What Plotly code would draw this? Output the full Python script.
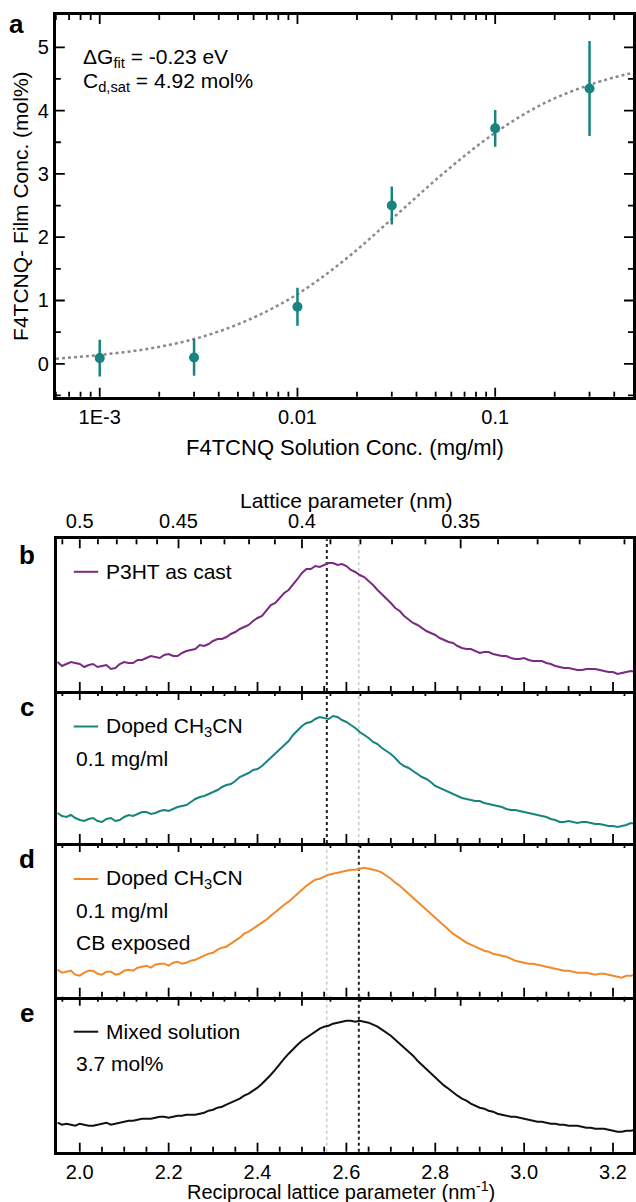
import plotly.graph_objects as go

W, H = 636, 1202
FONT = "Liberation Sans, Arial, Helvetica, sans-serif"
FS = 21
TICK_FS = 20

# ---- panel a: film dopant concentration vs. solution concentration ----
SOLN_CONC = [0.001, 0.003, 0.01, 0.03, 0.1, 0.3]          # mg/ml
FILM_CONC = [0.09, 0.10, 0.90, 2.50, 3.72, 4.35]           # mol%
FILM_ERR = [0.29, 0.29, 0.30, 0.30, 0.29, 0.75]
FIT_CONC = [0.0006, 0.001, 0.00178, 0.00316, 0.00562, 0.01, 0.0178,
            0.0316, 0.0562, 0.1, 0.178, 0.316, 0.5]
FIT_FILM = [0.08, 0.14, 0.24, 0.41, 0.69, 1.10, 1.67, 2.35, 3.04, 3.65,
            4.12, 4.43, 4.60]
A_XTICKS = [0.001, 0.01, 0.1]
A_XTICKTEXT = ["1E-3", "0.01", "0.1"]
A_XMINOR = [0.0006, 0.0007, 0.0008, 0.0009,
            0.002, 0.003, 0.004, 0.005, 0.006, 0.007, 0.008, 0.009,
            0.02, 0.03, 0.04, 0.05, 0.06, 0.07, 0.08, 0.09,
            0.2, 0.3, 0.4]
A_YTICKS = [0, 1, 2, 3, 4, 5]
A_YMINOR = [-0.5, 0.5, 1.5, 2.5, 3.5, 4.5]

# ---- panels b-e: pi-stacking peak profiles (a.u.) ----
Q = [1.95, 1.96, 1.97, 1.98, 1.99, 2.00, 2.01, 2.02, 2.03, 2.04, 2.05,
     2.06, 2.07, 2.08, 2.09, 2.10, 2.11, 2.12, 2.13, 2.14, 2.15, 2.16,
     2.17, 2.18, 2.19, 2.20, 2.21, 2.22, 2.23, 2.24, 2.25, 2.26, 2.27,
     2.28, 2.29, 2.30, 2.31, 2.32, 2.33, 2.34, 2.35, 2.36, 2.37, 2.38,
     2.39, 2.40, 2.41, 2.42, 2.43, 2.44, 2.45, 2.46, 2.47, 2.48, 2.49,
     2.50, 2.51, 2.52, 2.53, 2.54, 2.55, 2.56, 2.57, 2.58, 2.59, 2.60,
     2.61, 2.62, 2.63, 2.64, 2.65, 2.66, 2.67, 2.68, 2.69, 2.70, 2.71,
     2.72, 2.73, 2.74, 2.75, 2.76, 2.77, 2.78, 2.79, 2.80, 2.81, 2.82,
     2.83, 2.84, 2.85, 2.86, 2.87, 2.88, 2.89, 2.90, 2.91, 2.92, 2.93,
     2.94, 2.95, 2.96, 2.97, 2.98, 2.99, 3.00, 3.01, 3.02, 3.03, 3.04,
     3.05, 3.06, 3.07, 3.08, 3.09, 3.10, 3.11, 3.12, 3.13, 3.14, 3.15,
     3.16, 3.17, 3.18, 3.19, 3.20, 3.21, 3.22, 3.23, 3.24, 3.25]

P3HT_CAST = [29, 25, 27, 29, 28, 27, 24, 26, 27, 24, 25, 26, 22, 23, 27, 29,
             28, 28, 31, 31, 33, 35, 34, 33, 36, 37, 35, 35, 38, 40, 41, 42,
             46, 45, 47, 50, 52, 52, 54, 57, 59, 62, 64, 66, 70, 73, 75, 81,
             86, 88, 93, 98, 101, 106, 112, 118, 122, 122, 125, 124, 126, 128,
             128, 126, 127, 125, 121, 119, 116, 114, 110, 106, 101, 97, 92,
             88, 83, 80, 75, 71, 68, 66, 63, 60, 58, 56, 53, 51, 49, 48, 45,
             43, 42, 42, 40, 38, 39, 39, 37, 36, 35, 35, 33, 32, 32, 33, 31,
             30, 30, 30, 28, 27, 25, 24, 23, 23, 22, 21, 21, 22, 22, 22, 21,
             20, 19, 19, 17, 18, 19, 20, 19]

DOPED_CH3CN = [30, 27, 26, 28, 25, 23, 22, 24, 25, 22, 21, 24, 25, 22, 23,
               26, 28, 27, 29, 31, 31, 29, 30, 32, 33, 32, 34, 36, 37, 38,
               41, 44, 46, 47, 49, 51, 53, 56, 58, 59, 62, 66, 68, 70, 73,
               74, 77, 81, 85, 89, 93, 97, 102, 108, 113, 117, 120, 121, 124,
               126, 125, 124, 127, 126, 123, 121, 118, 115, 111, 108, 105,
               101, 99, 95, 92, 89, 85, 80, 77, 75, 72, 69, 66, 64, 61, 57,
               55, 53, 51, 49, 47, 45, 44, 43, 42, 42, 40, 39, 38, 37, 36,
               34, 33, 33, 32, 31, 30, 29, 28, 27, 26, 24, 23, 21, 21, 22,
               21, 20, 21, 21, 20, 19, 19, 18, 17, 17, 16, 17, 18, 20, 19]

DOPED_CB = [27, 24, 25, 26, 22, 21, 24, 26, 26, 23, 22, 25, 25, 22, 23, 26,
            27, 26, 29, 30, 31, 29, 32, 33, 33, 31, 34, 35, 33, 34, 36, 37,
            39, 41, 43, 44, 47, 49, 50, 53, 56, 59, 63, 65, 68, 71, 74, 77,
            81, 85, 89, 92, 95, 99, 102, 107, 111, 114, 117, 118, 120, 122,
            123, 124, 125, 126, 127, 127, 128, 129, 128, 127, 126, 124, 121,
            118, 114, 111, 107, 103, 99, 95, 91, 87, 83, 79, 75, 71, 67, 63,
            60, 57, 54, 52, 50, 48, 46, 45, 43, 42, 41, 40, 38, 36, 35, 34,
            33, 33, 32, 31, 30, 29, 28, 27, 26, 26, 25, 24, 24, 24, 23, 22,
            23, 23, 22, 21, 20, 19, 21, 21, 22]

MIXED = [29, 27, 28, 27, 26, 28, 27, 26, 26, 27, 28, 29, 27, 28, 29, 30,
         31, 31, 32, 33, 33, 33, 34, 35, 35, 34, 35, 36, 36, 37, 37, 37,
         38, 39, 41, 42, 44, 45, 47, 49, 51, 53, 56, 58, 61, 64, 68, 72,
         77, 82, 88, 93, 98, 103, 107, 111, 114, 117, 120, 123, 125, 126,
         128, 129, 130, 131, 131, 130, 131, 130, 129, 127, 125, 122, 119,
         116, 112, 108, 104, 100, 96, 91, 87, 82, 78, 74, 70, 66, 63, 59,
         56, 53, 51, 48, 46, 44, 43, 41, 40, 38, 37, 36, 35, 35, 34, 33,
         32, 31, 30, 30, 29, 28, 28, 27, 27, 26, 26, 26, 25, 24, 24, 23,
         23, 23, 22, 21, 20, 20, 21, 21, 22]

Q_TICKS = [2.0, 2.2, 2.4, 2.6, 2.8, 3.0, 3.2]
Q_MINOR = [2.05, 2.1, 2.15, 2.25, 2.3, 2.35, 2.45, 2.5, 2.55, 2.65, 2.7,
           2.75, 2.85, 2.9, 2.95, 3.05, 3.1, 3.15]
D_TICKS = [0.5, 0.45, 0.4, 0.35]
D_MINOR = [0.51, 0.49, 0.48, 0.47, 0.46, 0.44, 0.43, 0.42, 0.41, 0.39,
           0.38, 0.37, 0.36, 0.34, 0.33, 0.32, 0.31]
PEAK_Q = [2.556, 2.628]     # peak centres: as cast / doped+exposed

PANELS = [
    # letter, data, colour, label lines, black peak index, y-max (a.u.), first label offset
    ("b", P3HT_CAST, "#7b2a83", ["P3HT as cast"], 0, 151.7, 32.5),
    ("c", DOPED_CH3CN, "#17847f", ["Doped CH<sub>3</sub>CN", "0.1 mg/ml"], 0, 152.0, 35.5),
    ("d", DOPED_CB, "#f28a2c", ["Doped CH<sub>3</sub>CN", "0.1 mg/ml", "CB exposed"], 1, 153.7, 36.0),
    ("e", MIXED, "#111111", ["Mixed solution", "3.7 mol%"], 1, 155.0, 35.0),
]

# pixel frame of each panel
A_BOX = (56.0, 635.0, 15.0, 396.7)          # left, right, top, bottom
SPEC_X = (57.3, 635.0)
SPEC_EDGES = [539.3, 691.0, 843.0, 996.7, 1151.7]
Q_RANGE = [1.949, 3.245]
MAJOR_LEN, MINOR_LEN, TICK_W = 9.0, 5.0, 1.8


def px_x(x):
    return x / W


def px_y(y):
    return 1 - y / H


fig = go.Figure()
layout = dict(
    width=W, height=H, margin=dict(l=0, r=0, t=0, b=0),
    paper_bgcolor="white", plot_bgcolor="white", showlegend=False,
    font=dict(family=FONT, size=FS, color="black"),
)
annotations = []
shapes = []
TICKFONT = dict(family=FONT, size=TICK_FS, color="black")
FRAME = dict(showline=True, linecolor="black", linewidth=3, ticks="",
             showgrid=False, zeroline=False, fixedrange=True,
             tickfont=TICKFONT)


def xticks(xref, yref, vals, length, span_px, top=False):
    """Inward tick marks along the bottom (or top) edge of a subplot."""
    frac = length / span_px
    y0, y1 = (1, 1 - frac) if top else (0, frac)
    for v in vals:
        shapes.append(dict(type="line", xref=xref, yref=f"{yref} domain",
                           x0=v, x1=v, y0=y0, y1=y1, layer="above",
                           line=dict(color="black", width=TICK_W)))


def yticks(xref, yref, vals, length, span_px, right=False):
    """Inward tick marks along the left (or right) edge of a subplot."""
    frac = length / span_px
    x0, x1 = (1, 1 - frac) if right else (0, frac)
    for v in vals:
        shapes.append(dict(type="line", xref=f"{xref} domain", yref=yref,
                           x0=x0, x1=x1, y0=v, y1=v, layer="above",
                           line=dict(color="black", width=TICK_W)))


# ---------------- panel a ----------------
fig.add_trace(go.Scatter(
    x=FIT_CONC, y=FIT_FILM, mode="lines", line_shape="spline",
    line=dict(color="#8a8a8a", width=2.5, dash="dot"),
    xaxis="x", yaxis="y", hoverinfo="skip"))
fig.add_trace(go.Scatter(
    x=SOLN_CONC, y=FILM_CONC, mode="markers",
    marker=dict(color="#17847f", size=10),
    error_y=dict(type="data", array=FILM_ERR, color="#17847f",
                 thickness=2.5, width=0),
    xaxis="x", yaxis="y"))

a_w = A_BOX[1] - A_BOX[0]
a_h = A_BOX[3] - A_BOX[2]
layout["xaxis"] = dict(
    **FRAME, type="log", range=[-3.222, -0.303], mirror=True,
    domain=[px_x(A_BOX[0]), px_x(A_BOX[1])], anchor="y",
    tickmode="array", tickvals=A_XTICKS, ticktext=A_XTICKTEXT)
layout["yaxis"] = dict(
    **FRAME, range=[-0.52, 5.51], mirror=True,
    domain=[px_y(A_BOX[3]), px_y(A_BOX[2])], anchor="x",
    tickmode="array", tickvals=A_YTICKS)
for top in (False, True):
    xticks("x", "y", A_XTICKS, MAJOR_LEN, a_h, top)
    xticks("x", "y", A_XMINOR, MINOR_LEN, a_h, top)
for right in (False, True):
    yticks("x", "y", A_YTICKS, MAJOR_LEN, a_w, right)
    yticks("x", "y", A_YMINOR, MINOR_LEN, a_w, right)

annotations += [
    dict(text="<b>a</b>", x=px_x(17), y=px_y(24), font=dict(size=26)),
    dict(text="F4TCNQ- Film Conc. (mol%)", textangle=-90,
         x=px_x(21), y=px_y(206)),
    dict(text="F4TCNQ Solution Conc. (mg/ml)", x=px_x(346), y=px_y(447),
         font=dict(size=22)),
    dict(text="ΔG<sub>fit</sub> = -0.23 eV", x=px_x(81), y=px_y(58),
         xanchor="left"),
    dict(text="C<sub>d,sat</sub> = 4.92 mol%", x=px_x(81), y=px_y(82),
         xanchor="left"),
]

# ---------------- panels b-e ----------------
for i, (letter, vals, color, labels, black_idx, ymax, off) in enumerate(PANELS):
    n = 2 + i
    xid, yid = f"x{n}", f"y{n}"
    y_top, y_bot = SPEC_EDGES[i], SPEC_EDGES[i + 1]
    p_h = y_bot - y_top

    fig.add_trace(go.Scatter(x=Q, y=vals, mode="lines",
                             line=dict(color=color, width=2),
                             xaxis=xid, yaxis=yid, hoverinfo="skip"))

    layout[f"xaxis{n}"] = dict(
        **FRAME, range=Q_RANGE, domain=[px_x(SPEC_X[0]), px_x(SPEC_X[1])],
        anchor=yid, side="bottom", tickmode="array", tickvals=Q_TICKS,
        ticktext=[f"{t:.1f}" for t in Q_TICKS],
        showticklabels=(letter == "e"))
    layout[f"yaxis{n}"] = dict(
        **FRAME, range=[0, ymax], domain=[px_y(y_bot), px_y(y_top)],
        anchor=xid, mirror=True, showticklabels=False)

    # reciprocal-space ticks along the bottom, real-space ticks along the top
    xticks(xid, yid, Q_TICKS, MAJOR_LEN, p_h)
    xticks(xid, yid, Q_MINOR, MINOR_LEN, p_h)
    xticks(xid, yid, [1 / d for d in D_TICKS], MAJOR_LEN, p_h, top=True)
    xticks(xid, yid, [1 / d for d in D_MINOR], MINOR_LEN, p_h, top=True)

    # peak-position markers
    for k, qv in enumerate(PEAK_Q):
        strong = (k == black_idx)
        shapes.append(dict(
            type="line", xref=xid, yref=f"{yid} domain", x0=qv, x1=qv,
            y0=0, y1=1, layer="below",
            line=dict(color="#222222" if strong else "#b0b0b0",
                      width=2 if strong else 1, dash="dot")))

    annotations.append(dict(text=f"<b>{letter}</b>", x=px_x(27),
                            y=px_y(y_top + 16), font=dict(size=26)))
    row0 = y_top + off
    shapes.append(dict(type="line", xref="paper", yref="paper",
                       x0=px_x(74), x1=px_x(98.5), y0=px_y(row0),
                       y1=px_y(row0), line=dict(color=color, width=2)))
    for j, txt in enumerate(labels):
        annotations.append(dict(
            text=txt, xanchor="left",
            x=px_x(104 if j == 0 else 74.5), y=px_y(row0 + 31.5 * j)))

# real-space tick labels above panel b
fig.add_trace(go.Scatter(x=[None], y=[None], xaxis="x6", yaxis="y2",
                         mode="markers", hoverinfo="skip", showlegend=False))
layout["xaxis6"] = dict(
    **FRAME, range=Q_RANGE, overlaying="x2", anchor="y2", side="top",
    tickmode="array", tickvals=[1 / d for d in D_TICKS],
    ticktext=[f"{d:g}" for d in D_TICKS])

annotations += [
    dict(text="Lattice parameter (nm)", x=px_x(347), y=px_y(500)),
    dict(text="Reciprocal lattice parameter (nm<sup>-1</sup>)",
         x=px_x(342), y=px_y(1190), font=dict(size=20)),
]

for a in annotations:
    a.setdefault("xref", "paper")
    a.setdefault("yref", "paper")
    a.setdefault("showarrow", False)
    a.setdefault("xanchor", "center")
    a.setdefault("yanchor", "middle")
    a.setdefault("font", dict(size=FS))

layout["annotations"] = annotations
layout["shapes"] = shapes
fig.update_layout(**layout)
fig.write_html("out.html")
